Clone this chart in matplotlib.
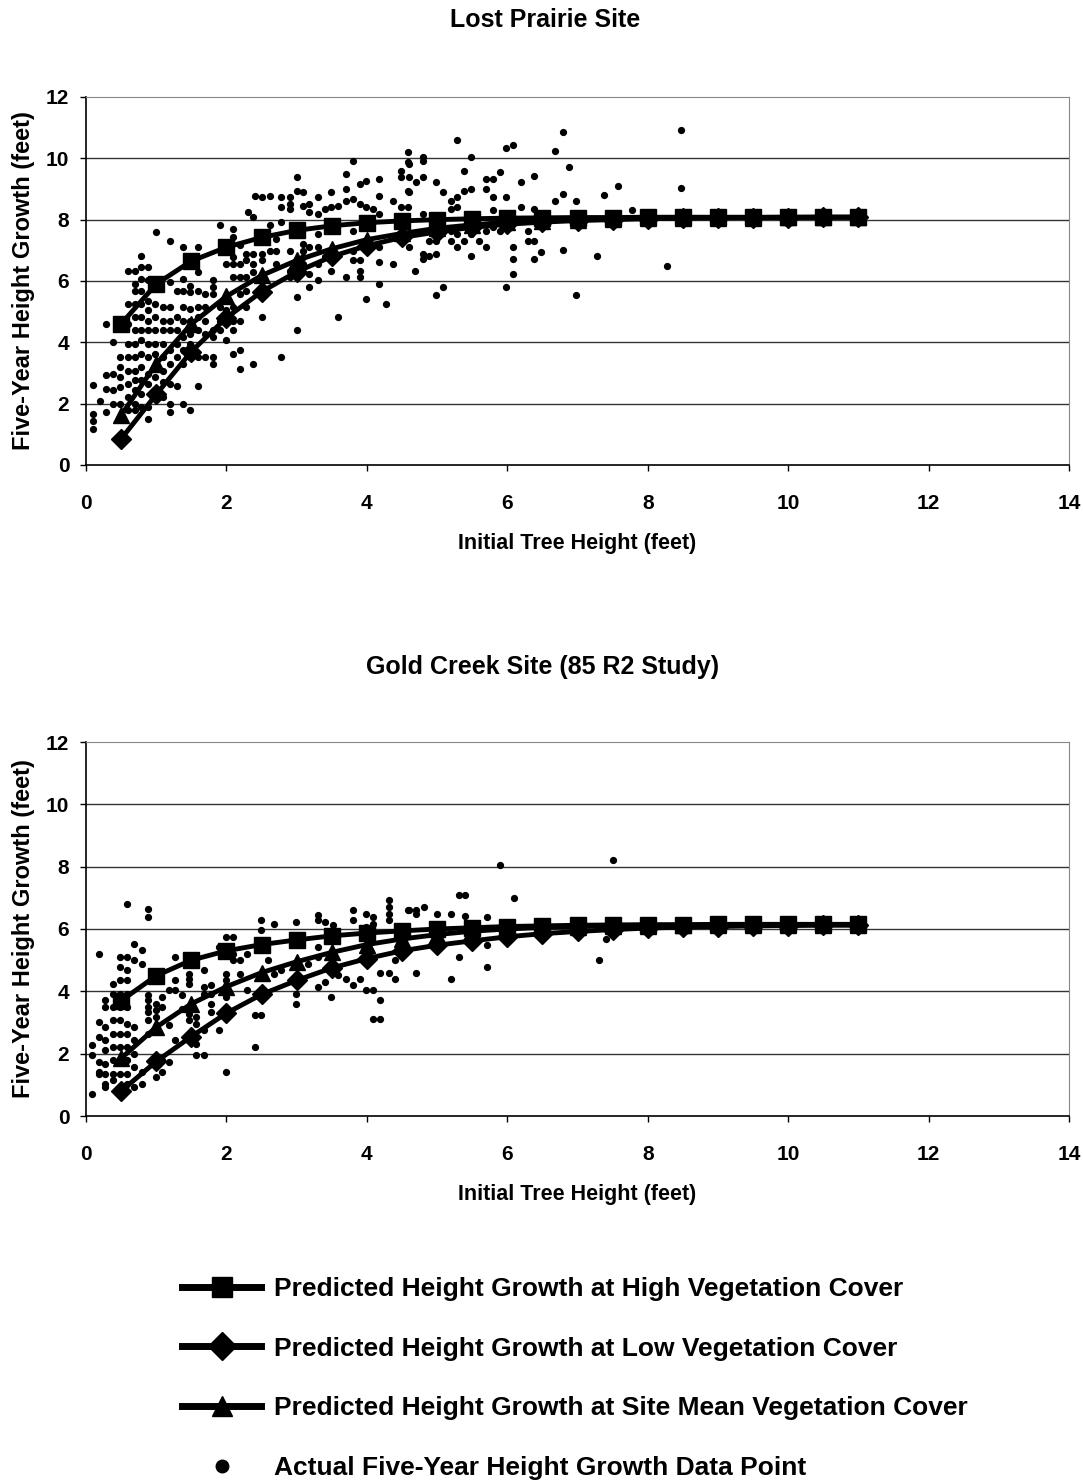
import matplotlib
matplotlib.use("Agg")
import matplotlib.pyplot as plt
from matplotlib.lines import Line2D

plt.rcParams['font.family'] = ['Liberation Sans', 'DejaVu Sans']
plt.rcParams['font.weight'] = 'bold'

# predicted curves (same x for both sites)
curve_x = [0.5, 1, 1.5, 2, 2.5, 3, 3.5, 4, 4.5, 5, 5.5, 6, 6.5, 7, 7.5, 8, 8.5, 9, 9.5, 10, 10.5, 11]

lp_high = [4.6, 5.9, 6.65, 7.1, 7.42, 7.65, 7.8, 7.9, 7.96, 8.0, 8.03, 8.05, 8.06, 8.07, 8.07, 8.08, 8.08, 8.08, 8.08, 8.08, 8.08, 8.08]
lp_low = [0.85, 2.3, 3.7, 4.8, 5.65, 6.3, 6.8, 7.15, 7.42, 7.6, 7.75, 7.85, 7.92, 7.97, 8.0, 8.03, 8.05, 8.06, 8.07, 8.07, 8.08, 8.08]
lp_mean = [1.62, 3.3, 4.6, 5.5, 6.18, 6.67, 7.05, 7.35, 7.55, 7.72, 7.83, 7.92, 7.97, 8.0, 8.03, 8.05, 8.06, 8.07, 8.07, 8.08, 8.08, 8.08]

gc_high = [3.7, 4.5, 5.0, 5.3, 5.5, 5.65, 5.78, 5.87, 5.94, 6.0, 6.04, 6.08, 6.1, 6.12, 6.13, 6.14, 6.14, 6.15, 6.15, 6.15, 6.15, 6.15]
gc_low = [0.8, 1.75, 2.55, 3.3, 3.9, 4.35, 4.75, 5.05, 5.3, 5.48, 5.62, 5.75, 5.85, 5.92, 5.98, 6.03, 6.06, 6.08, 6.1, 6.11, 6.12, 6.12]
gc_mean = [1.85, 2.85, 3.6, 4.15, 4.6, 4.95, 5.25, 5.5, 5.68, 5.82, 5.93, 6.0, 6.05, 6.08, 6.1, 6.11, 6.12, 6.13, 6.13, 6.14, 6.14, 6.14]

# observed points, grouped by initial height column
lp_xcol = [0.10, 0.20, 0.29, 0.39, 0.49, 0.60, 0.70, 0.79, 0.89, 0.98, 1.00, 1.10, 1.19, 1.29,
           1.38, 1.48, 1.60, 1.69, 1.81, 1.91, 2.00, 2.09, 2.19, 2.28, 2.31, 2.38, 2.40, 2.50,
           2.62, 2.71, 2.78, 2.90, 3.00, 3.09, 3.18, 3.30, 3.40, 3.49, 3.59, 3.71, 3.80, 3.90,
           3.99, 4.09, 4.18, 4.27, 4.37, 4.49, 4.58, 4.60, 4.68, 4.70, 4.80, 4.89, 4.99, 5.08,
           5.20, 5.29, 5.39, 5.48, 5.60, 5.70, 5.79, 5.89, 5.98, 6.08, 6.19, 6.29, 6.38, 6.48,
           6.68, 6.79, 6.88, 6.98, 7.28, 7.38, 7.58, 7.78, 8.28, 8.48]
lp_ycol = [
    [2.6, 1.67, 1.45, 1.18], [2.1], [4.6, 2.92, 2.49, 1.73], [4.0, 2.98, 2.43, 2.0],
    [3.52, 3.19, 2.87, 2.54, 2.0],
    [6.34, 5.26, 4.6, 3.95, 3.52, 3.08, 2.65, 2.21, 1.78],
    [6.34, 5.91, 5.69, 5.26, 4.82, 4.39, 3.95, 3.52, 3.08, 2.76, 2.43, 2.0, 1.78],
    [6.83, 6.45, 6.07, 5.69, 5.26, 4.82, 4.39, 4.06, 3.63, 3.19, 2.76, 2.32, 1.89],
    [6.45, 6.02, 5.36, 5.04, 4.71, 4.39, 3.95, 3.52, 2.98, 2.65, 1.89, 1.51],
    [5.26, 4.82, 4.39, 3.95, 3.63, 3.19, 2.87], [7.59],
    [5.15, 4.71, 4.39, 3.95, 3.52, 3.08, 2.7, 2.21],
    [7.32, 5.96, 5.15, 4.71, 4.39, 3.74, 3.3, 2.65, 2.0, 1.73],
    [5.69, 4.82, 4.39, 3.95, 3.52, 2.59],
    [7.1, 6.07, 5.69, 5.15, 4.71, 4.17, 3.74, 3.3, 2.0],
    [5.85, 5.64, 5.09, 4.71, 4.28, 3.95, 3.52, 1.78],
    [7.1, 6.29, 5.69, 5.15, 4.82, 4.39, 3.52, 2.59],
    [5.58, 5.15, 4.71, 4.28, 3.52],
    [6.02, 5.8, 5.58, 4.39, 4.17, 3.52, 3.3],
    [7.81, 5.15, 4.71, 4.39], [6.56, 5.04, 4.06],
    [7.7, 7.43, 6.78, 6.56, 6.12, 5.15, 4.71, 4.39, 3.63],
    [7.16, 6.56, 6.12, 5.58, 4.71, 3.74, 3.14],
    [6.88, 6.67, 6.12, 5.69, 5.15], [8.24], [8.08, 6.88, 6.56, 6.29, 3.3], [8.78],
    [8.73, 6.88, 6.67, 4.82], [8.78, 7.81, 6.99], [7.37, 6.99, 6.56], [8.73, 8.4, 7.92, 3.52],
    [8.73, 8.51, 8.35, 6.99, 6.34, 6.12], [9.38, 8.95, 7.64, 5.47, 4.39],
    [8.89, 8.46, 7.21, 6.99, 6.78, 6.56], [8.51, 8.24, 7.1, 6.23, 5.8],
    [8.73, 8.19, 7.54, 7.1, 6.56, 6.02], [8.35, 6.78], [8.89, 8.4, 6.34], [8.46, 4.82],
    [9.49, 9.0, 8.62, 6.12], [9.92, 8.68, 7.64, 6.99, 6.67], [9.16, 8.51, 6.67, 6.12, 6.34],
    [9.27, 8.4, 7.1, 5.42], [8.35], [9.33, 8.78, 8.19, 7.1, 6.61, 5.91], [5.26], [8.62, 6.56],
    [9.6, 9.38, 8.4], [10.2, 9.87, 8.95, 8.4], [9.82, 9.38, 8.89, 7.1], [6.32], [9.22],
    [10.03, 9.92, 9.4, 8.19, 6.88, 6.72], [7.32, 6.83], [9.22, 7.32, 6.88, 5.53], [8.89, 5.8],
    [8.62, 8.35, 7.64, 7.32], [10.6, 8.73, 8.4, 7.54, 7.1], [9.6, 8.95, 7.32],
    [10.03, 9.0, 7.54, 6.83], [7.32], [9.33, 9.0, 7.64, 7.1], [9.33, 8.73, 8.3, 7.75],
    [9.54, 7.64], [10.34, 8.73, 5.8], [10.43, 7.1, 6.72, 6.23], [9.22, 8.4], [7.64, 7.32],
    [9.43, 8.35, 7.32, 6.72], [6.94], [10.25, 8.62], [10.85, 8.84, 7.01], [9.73],
    [8.62, 5.53], [6.83], [8.82], [9.11], [8.33], [6.5], [10.93, 9.03],
]

gc_xcol = [0.08, 0.18, 0.27, 0.39, 0.49, 0.58, 0.68, 0.80, 0.89, 0.99, 1.08, 1.18, 1.27, 1.37,
           1.47, 1.56, 1.68, 1.78, 1.89, 1.99, 2.09, 2.20, 2.30, 2.40, 2.49, 2.59, 2.68, 2.78,
           2.99, 3.16, 3.30, 3.40, 3.49, 3.52, 3.59, 3.71, 3.80, 3.90, 3.99, 4.09, 4.19, 4.31,
           4.40, 4.59, 4.60, 4.70, 4.81, 5.00, 5.20, 5.31, 5.40, 5.71, 5.90, 6.10, 7.31, 7.41, 7.51]
gc_ycol = [
    [2.27, 1.95, 0.72], [5.21, 3.02, 2.53, 1.73, 1.41, 1.36],
    [3.71, 3.5, 2.86, 2.43, 2.11, 1.68, 1.36, 1.04, 0.93],
    [4.25, 3.93, 3.5, 3.07, 2.64, 2.21, 1.79, 1.36, 1.14],
    [5.1, 4.78, 4.35, 3.93, 3.5, 3.07, 2.64, 2.21, 1.79, 1.36],
    [6.81, 5.1, 4.67, 4.35, 3.93, 3.5, 2.96, 2.64, 2.21, 1.79, 1.36, 1.04],
    [5.53, 4.99, 2.86, 2.43, 2.0, 1.57, 0.93], [5.32, 4.89, 1.41, 1.04],
    [6.65, 6.39, 3.87, 3.71, 3.5, 3.34, 3.07, 2.64], [3.6, 3.39, 3.18, 1.25],
    [3.82, 3.5, 1.79, 1.41], [4.03, 2.91, 1.73], [5.1, 4.35, 4.03, 2.43], [3.87, 3.44],
    [4.57, 4.41, 4.25, 3.28, 3.07], [3.18, 2.96, 2.32, 1.95], [4.67, 4.14, 3.93, 2.75, 1.95],
    [4.19, 3.93, 3.6, 3.34], [5.42, 2.75], [5.74, 4.57, 4.35, 3.82, 1.41], [5.74, 5.21, 4.99],
    [4.99, 4.57], [5.21, 4.03], [3.23, 2.21], [6.28, 5.96, 3.23], [4.99], [6.17, 4.57], [4.67],
    [6.22, 3.93, 3.6], [4.89], [6.44, 6.28, 5.42, 5.1, 4.14], [6.22, 4.3], [3.82], [6.12],
    [4.51], [4.41], [6.6, 6.28, 4.19], [4.41], [6.49, 6.06, 5.85, 5.42, 4.03],
    [6.39, 6.17, 4.03, 3.12], [4.6, 3.71, 3.12], [6.92, 6.71, 6.49, 6.28, 4.6], [4.99, 4.41],
    [6.6], [6.6], [6.6, 6.49, 4.6], [6.71], [6.49], [6.49, 4.41], [7.1, 5.1], [7.1, 6.41],
    [6.39, 5.48, 4.78], [8.04], [7.01], [4.99], [5.69], [8.2],
]

titles = ["Lost Prairie Site", "Gold Creek Site (85 R2 Study)"]
legend_labels = ["Predicted Height Growth at High Vegetation Cover",
                 "Predicted Height Growth at Low Vegetation Cover",
                 "Predicted Height Growth at Site Mean Vegetation Cover",
                 "Actual Five-Year Height Growth Data Point"]


def expand(xcol, ycol):
    xs, ys = [], []
    for x, col in zip(xcol, ycol):
        for y in col:
            xs.append(x)
            ys.append(y)
    return xs, ys


def panel(ax, xcol, ycol, high, low, mean):
    xs, ys = expand(xcol, ycol)
    ax.plot(xs, ys, 'o', color='black', ms=4.2, ls='none', zorder=2)
    ax.plot(curve_x, mean, '-', color='black', lw=3.5, marker='^', ms=12, zorder=3)
    ax.plot(curve_x, low, '-', color='black', lw=3.5, marker='D', ms=10, zorder=3)
    ax.plot(curve_x, high, '-', color='black', lw=3.5, marker='s', ms=12, zorder=4)
    ax.set_xlim(0, 14)
    ax.set_ylim(0, 12)
    ax.set_xticks(range(0, 15, 2))
    ax.set_yticks(range(0, 13, 2))
    for y in range(2, 12, 2):
        ax.axhline(y, color='#333333', lw=1.0, zorder=1)
    ax.spines['top'].set_color('#888888')
    ax.spines['right'].set_color('#888888')
    ax.spines['left'].set_linewidth(1.2)
    ax.spines['bottom'].set_linewidth(1.2)
    ax.tick_params(axis='x', labelsize=15, length=4, width=1, pad=17)
    ax.tick_params(axis='y', labelsize=15, length=4, width=1, pad=8)
    ax.set_xlabel("Initial Tree Height (feet)", fontsize=15.5, fontweight='bold', labelpad=14)
    ax.set_ylabel("Five-Year Height Growth (feet)", fontsize=17, fontweight='bold', labelpad=8)


fig = plt.figure(figsize=(10.83, 14.83), dpi=100)
ax1 = fig.add_axes([86 / 1083, 1 - 465 / 1483, 983 / 1083, 368 / 1483])
ax2 = fig.add_axes([86 / 1083, 1 - 1116 / 1483, 983 / 1083, 374 / 1483])

panel(ax1, lp_xcol, lp_ycol, lp_high, lp_low, lp_mean)
panel(ax2, gc_xcol, gc_ycol, gc_high, gc_low, gc_mean)

fig.text(545 / 1083, 1 - 20 / 1483, titles[0], ha='center', va='center', fontsize=18, fontweight='bold')
fig.text(543 / 1083, 1 - 667 / 1483, titles[1], ha='center', va='center', fontsize=18, fontweight='bold')

handles = [Line2D([], [], color='black', lw=5, marker='s', ms=15),
           Line2D([], [], color='black', lw=5, marker='D', ms=14),
           Line2D([], [], color='black', lw=5, marker='^', ms=15),
           Line2D([], [], color='black', ls='none', marker='o', ms=9)]
fig.legend(handles, legend_labels, loc='upper left', bbox_to_anchor=(182 / 1083, 1 - 1277 / 1483),
           frameon=False, fontsize=19, handlelength=3.0, handletextpad=0.5,
           labelspacing=1.35, borderpad=0, borderaxespad=0)

fig.savefig("out.png", dpi=100)
